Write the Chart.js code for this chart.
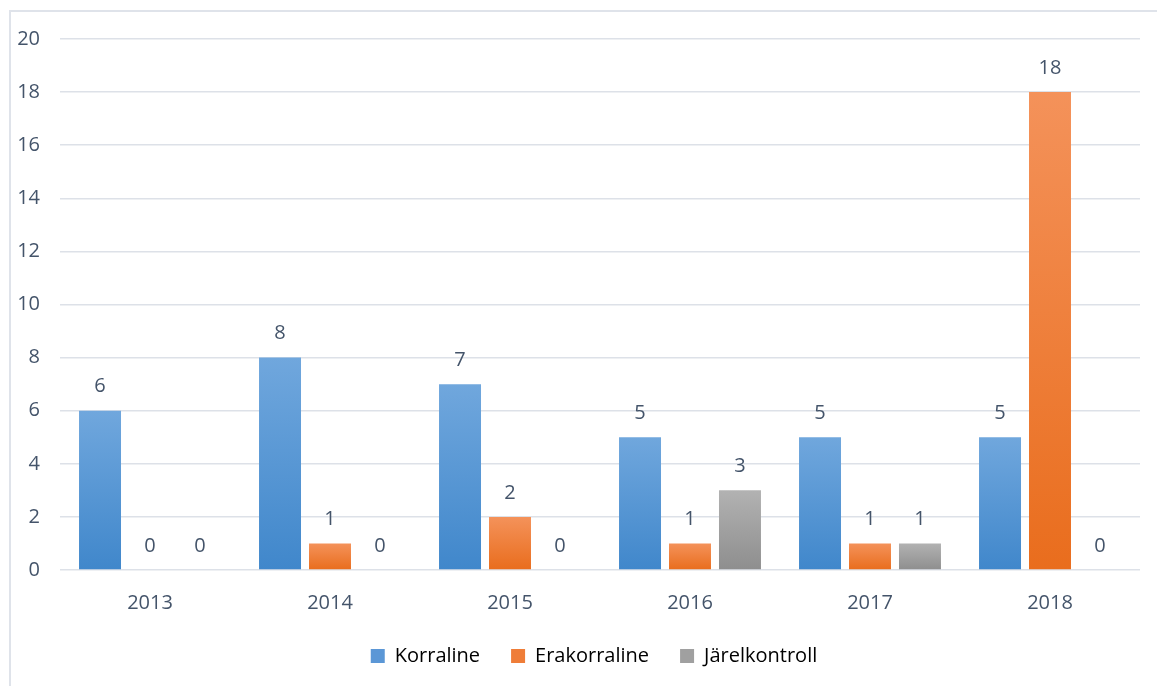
<!DOCTYPE html>
<html>
<head>
<meta charset="utf-8">
<script src="https://cdn.jsdelivr.net/npm/chart.js@4.4.1/dist/chart.umd.min.js"></script>
<style>
  html, body { margin: 0; padding: 0; background: #fff; }
  #frame { position: absolute; left: 9px; top: 10px; width: 1200px; height: 700px;
           border-left: 2px solid #dfe3ea; border-top: 2px solid #dfe3ea; }
  #wrap { position: absolute; left: 0; top: 0; width: 1157px; height: 686px; }
</style>
</head>
<body>
<div id="frame"></div>
<div id="wrap"><canvas id="chart" width="1157" height="686"></canvas></div>
<script>
// values
const years = ["2013", "2014", "2015", "2016", "2017", "2018"];
const korraline = [6, 8, 7, 5, 5, 5];
const erakorraline = [0, 1, 2, 1, 1, 18];
const jarelkontroll = [0, 0, 0, 3, 1, 0];
const yTicks = [0, 2, 4, 6, 8, 10, 12, 14, 16, 18, 20];

const textColor = "#44546a";
const fontFamily = "'Open Sans', 'Noto Sans', sans-serif";

// excel-like vertical gradient per bar
function barGradient(top, bottom) {
  return ctx => {
    const chart = ctx.chart;
    if (!chart.chartArea || ctx.type !== "data") return bottom;
    const y = chart.scales.y;
    const y0 = y.getPixelForValue(0);
    const y1 = y.getPixelForValue(ctx.raw);
    if (y0 - y1 < 1) return bottom;
    const g = chart.ctx.createLinearGradient(0, y1, 0, y0);
    g.addColorStop(0, top);
    g.addColorStop(1, bottom);
    return g;
  };
}

const valueLabels = {
  id: "valueLabels",
  afterDatasetsDraw(chart) {
    const c = chart.ctx;
    c.save();
    c.fillStyle = textColor;
    c.font = "20px " + fontFamily;
    c.textAlign = "center";
    c.textBaseline = "bottom";
    chart.data.datasets.forEach((ds, i) => {
      chart.getDatasetMeta(i).data.forEach((bar, j) => {
        c.fillText(ds.data[j], bar.x, bar.y - 14);
      });
    });
    c.restore();
  }
};

// legend in the original sits a bit right of the plot centre
const legendShift = {
  id: "legendShift",
  afterLayout(chart) {
    chart.legend.left += 19;
    chart.legend.right += 19;
  }
};

new Chart(document.getElementById("chart"), {
  type: "bar",
  data: {
    labels: years,
    datasets: [
      { label: "Korraline", data: korraline,
        backgroundColor: barGradient("#70a7dd", "#4087cb") },
      { label: "Erakorraline", data: erakorraline,
        backgroundColor: barGradient("#f4925a", "#e96d1d") },
      { label: "Järelkontroll", data: jarelkontroll,
        backgroundColor: barGradient("#b2b2b2", "#8e8e8e") }
    ]
  },
  options: {
    responsive: false,
    animation: false,
    devicePixelRatio: 1,
    datasets: { bar: { categoryPercentage: 0.833, barPercentage: 0.84 } },
    layout: { padding: { left: 10, right: 17, top: 39, bottom: 10 } },
    plugins: {
      tooltip: { enabled: false },
      legend: {
        position: "bottom",
        labels: {
          boxWidth: 14, boxHeight: 14, padding: 31,
          color: textColor,
          font: { family: fontFamily, size: 20 },
          generateLabels: chart => chart.data.datasets.map((ds, i) => ({
            text: ds.label,
            fillStyle: ["#5b97d6", "#ef7d38", "#a0a0a0"][i],
            strokeStyle: "rgba(0,0,0,0)",
            lineWidth: 0,
            datasetIndex: i
          }))
        }
      }
    },
    scales: {
      x: {
        afterFit: s => { s.height = 45; },
        grid: { display: false },
        border: { display: false },
        ticks: { color: textColor, font: { family: fontFamily, size: 20 }, padding: 13 }
      },
      y: {
        min: 0, max: 20,
        afterFit: s => { s.width = 50; },
        afterBuildTicks: s => { s.ticks = yTicks.map(v => ({ value: v })); },
        grid: { color: "#dde1e8", lineWidth: 1.5, drawTicks: false },
        border: { display: false },
        ticks: { color: textColor, font: { family: fontFamily, size: 20 }, padding: 20 }
      }
    }
  },
  plugins: [valueLabels, legendShift]
});
</script>
</body>
</html>
